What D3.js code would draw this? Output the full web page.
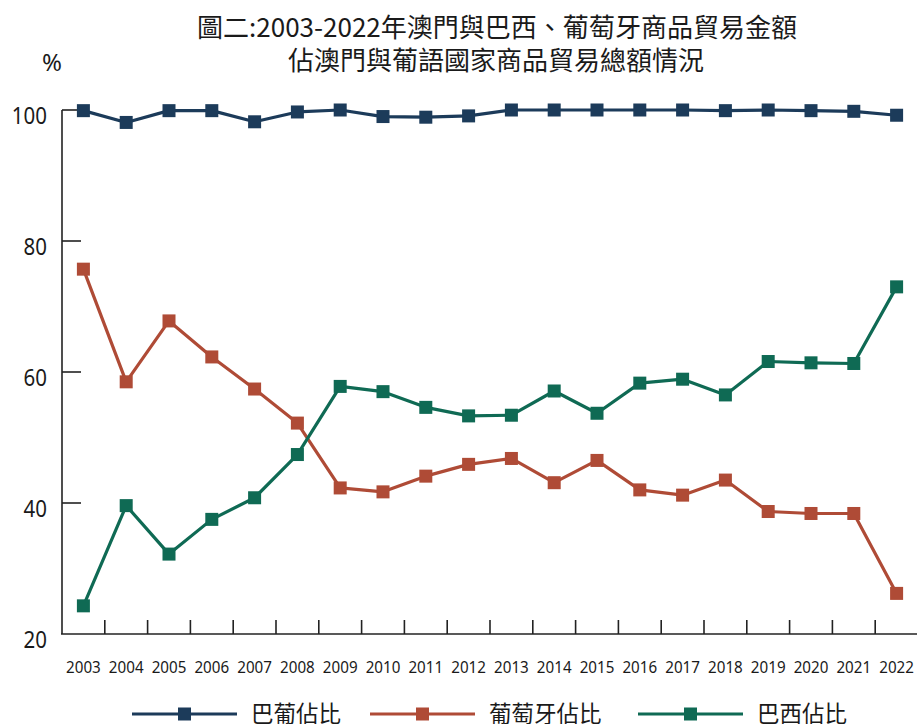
<!DOCTYPE html>
<html>
<head>
<meta charset="utf-8">
<script src="https://cdn.jsdelivr.net/npm/d3@7"></script>
<style>
  body { margin: 0; background: #fff; }
  svg { display: block; font-family: "Noto Sans CJK TC", "Noto Sans", sans-serif; }
</style>
</head>
<body>
<div id="chart"></div>
<script>
const years = ['2003','2004','2005','2006','2007','2008','2009','2010','2011','2012',
               '2013','2014','2015','2016','2017','2018','2019','2020','2021','2022'];
const brPt = [99.9, 98.1, 99.9, 99.9, 98.2, 99.7, 100, 99.0, 98.9, 99.1,
              100, 100, 100, 100, 100, 99.9, 100, 99.9, 99.8, 99.2];
const portugal = [75.7, 58.5, 67.8, 62.3, 57.4, 52.2, 42.3, 41.7, 44.1, 45.9,
                  46.8, 43.1, 46.5, 42.0, 41.2, 43.5, 38.7, 38.4, 38.4, 26.2];
const brazil = [24.3, 39.6, 32.2, 37.5, 40.8, 47.4, 57.8, 57.0, 54.6, 53.3,
                53.4, 57.1, 53.7, 58.3, 58.9, 56.5, 61.6, 61.4, 61.3, 73.0];
const yTicks = [20, 40, 60, 80, 100];
const seriesNames = ['巴葡佔比', '葡萄牙佔比', '巴西佔比'];
const colors = ['#1c3b5a', '#af4b36', '#0f6a54'];

const width = 917, height = 724;
const svg = d3.select('#chart').append('svg')
    .attr('width', width)
    .attr('height', height);

// title
svg.append('text')
    .attr('x', 497).attr('y', 37)
    .attr('text-anchor', 'middle')
    .attr('font-size', 26)
    .attr('fill', '#1a1a1a')
    .attr('textLength', 600)
    .attr('lengthAdjust', 'spacingAndGlyphs')
    .text('圖二:2003-2022年澳門與巴西、葡萄牙商品貿易金額');
svg.append('text')
    .attr('x', 496).attr('y', 70)
    .attr('text-anchor', 'middle')
    .attr('font-size', 26)
    .attr('fill', '#1a1a1a')
    .text('佔澳門與葡語國家商品貿易總額情況');

svg.append('text')
    .attr('x', 52).attr('y', 71)
    .attr('text-anchor', 'middle')
    .attr('font-size', 24)
    .attr('font-family', 'Noto Sans')
    .attr('fill', '#1a1a1a')
    .text('%');

const x = d3.scaleBand()
    .domain(years)
    .range([62, 62 + 20 * 42.8]);
const y = d3.scaleLinear()
    .domain([20, 100])
    .range([634, 110]);

const axisColor = '#222';

// y axis line + inward ticks
svg.append('line')
    .attr('x1', 62).attr('x2', 62)
    .attr('y1', y(100)).attr('y2', y(20))
    .attr('stroke', axisColor).attr('stroke-width', 1.6);
svg.append('g')
    .selectAll('line')
    .data(yTicks.filter(d => d > 20))
    .join('line')
    .attr('x1', 62).attr('x2', 81)
    .attr('y1', d => y(d)).attr('y2', d => y(d))
    .attr('stroke', axisColor).attr('stroke-width', 1.6);
svg.append('g')
    .selectAll('text')
    .data(yTicks)
    .join('text')
    .attr('transform', d => `translate(47, ${y(d) + 14}) scale(0.89, 1)`)
    .attr('text-anchor', 'end')
    .attr('font-size', 23)
    .attr('font-family', 'Noto Sans')
    .attr('fill', '#1a1a1a')
    .text(d => d);

// x axis line + ticks between categories
svg.append('line')
    .attr('x1', 61).attr('x2', width)
    .attr('y1', y(20)).attr('y2', y(20))
    .attr('stroke', axisColor).attr('stroke-width', 1.6);
svg.append('g')
    .selectAll('line')
    .data(years.slice(1))
    .join('line')
    .attr('x1', d => x(d)).attr('x2', d => x(d))
    .attr('y1', y(20)).attr('y2', y(20) - 14)
    .attr('stroke', axisColor).attr('stroke-width', 1.6);
svg.append('g')
    .selectAll('text')
    .data(years)
    .join('text')
    .attr('transform', d => `translate(${x(d) + x.bandwidth() / 2}, 673) scale(0.92, 1)`)
    .attr('text-anchor', 'middle')
    .attr('font-size', 16.5)
    .attr('font-family', 'Noto Sans')
    .attr('fill', '#1a1a1a')
    .text(d => d);

// series
const series = [brPt, portugal, brazil];
const line = d3.line()
    .x((d, i) => x(years[i]) + x.bandwidth() / 2)
    .y(d => y(d));
const ms = 13;

series.forEach((vals, k) => {
    svg.append('path')
        .datum(vals)
        .attr('d', line)
        .attr('fill', 'none')
        .attr('stroke', colors[k])
        .attr('stroke-width', 3.2)
        .attr('stroke-linejoin', 'round');
    svg.append('g')
        .selectAll('rect')
        .data(vals)
        .join('rect')
        .attr('x', (d, i) => x(years[i]) + x.bandwidth() / 2 - ms / 2)
        .attr('y', d => y(d) - ms / 2)
        .attr('width', ms)
        .attr('height', ms)
        .attr('fill', colors[k]);
});

// legend
const legendX = [132, 370, 638];
const legY = 714;
const legend = svg.append('g')
    .selectAll('g')
    .data(seriesNames)
    .join('g')
    .attr('transform', (d, i) => `translate(${legendX[i]}, ${legY})`);
legend.append('line')
    .attr('x1', 0).attr('x2', 105)
    .attr('stroke', (d, i) => colors[i])
    .attr('stroke-width', 3.2);
legend.append('rect')
    .attr('x', 52.5 - ms / 2).attr('y', -ms / 2)
    .attr('width', ms).attr('height', ms)
    .attr('fill', (d, i) => colors[i]);
legend.append('text')
    .attr('x', 119).attr('y', 8)
    .attr('font-size', 22.5)
    .attr('fill', '#1a1a1a')
    .text(d => d);
</script>
</body>
</html>
